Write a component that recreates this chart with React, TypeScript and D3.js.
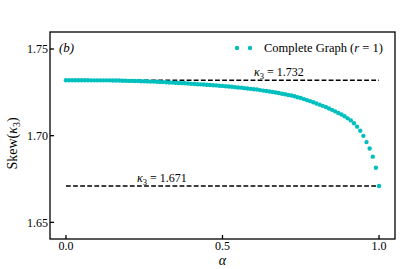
import React from 'react';
import * as d3 from 'd3';

// alpha grid (step 0.01) and skewness values
const alphas: number[] = d3.range(0, 101).map((i) => i / 100);
const skewValues: number[] = [
  1.7320, 1.7320, 1.7320, 1.7320, 1.7320, 1.7320, 1.7320, 1.7320, 1.7319, 1.7319,
  1.7319, 1.7319, 1.7319, 1.7319, 1.7319, 1.7318, 1.7318, 1.7318, 1.7317, 1.7317,
  1.7316, 1.7316, 1.7315, 1.7315, 1.7314, 1.7314, 1.7313, 1.7312, 1.7312, 1.7311,
  1.7310, 1.7309, 1.7308, 1.7307, 1.7306, 1.7305, 1.7304, 1.7303, 1.7302, 1.7301,
  1.7299, 1.7298, 1.7297, 1.7296, 1.7295, 1.7294, 1.7292, 1.7291, 1.7290, 1.7288,
  1.7287, 1.7285, 1.7284, 1.7282, 1.7280, 1.7278, 1.7277, 1.7274, 1.7272, 1.7270,
  1.7268, 1.7266, 1.7263, 1.7260, 1.7258, 1.7255, 1.7252, 1.7249, 1.7246, 1.7242,
  1.7239, 1.7235, 1.7232, 1.7227, 1.7222, 1.7217, 1.7211, 1.7205, 1.7199, 1.7193,
  1.7186, 1.7179, 1.7172, 1.7165, 1.7157, 1.7149, 1.7140, 1.7131, 1.7122, 1.7112,
  1.7100, 1.7088, 1.7072, 1.7052, 1.7028, 1.6999, 1.6963, 1.6926, 1.6879, 1.6815,
  1.6710,
];
const refLevels: number[] = [1.732, 1.671];
const refLabels: string[] = ['1.732', '1.671'];
const xTicks: number[] = [0, 0.5, 1];
const yTicks: number[] = [1.65, 1.7, 1.75];

const W = 403;
const H = 269;
const margin = { left: 50, top: 32, right: 8, bottom: 30 };
const font = 'Liberation Serif';
const cyan = '#00bfbf';

export default function App() {
  const x = d3.scaleLinear().domain([-0.051, 1.051]).range([margin.left, W - margin.right]);
  const y = d3.scaleLinear().domain([1.6404, 1.7598]).range([H - margin.bottom, margin.top]);
  const [x0, x1] = x.range();
  const [yb, yt] = y.range();

  return (
    <svg width={W} height={H} style={{ position: 'absolute', left: 0, top: 0, background: '#fff' }}>
      <g fontFamily={font}>
        {/* reference dashed lines */}
        {refLevels.map((lv) => (
          <line key={lv} x1={x(0)} x2={x(1)} y1={y(lv)} y2={y(lv)}
            stroke="#000" strokeWidth={1.5} strokeDasharray="4.8,2.3" />
        ))}
        {/* labels of reference lines */}
        {refLevels.map((lv, i) => (
          <text key={lv} x={i === 0 ? 254 : 137} y={y(lv) - 4} fontSize={12}>
            <tspan fontStyle="italic">κ</tspan>
            <tspan fontSize={8.5} dy={3}>3</tspan>
            <tspan dy={-3}> = {refLabels[i]}</tspan>
          </text>
        ))}

        {/* data points */}
        {alphas.map((a, i) => (
          <circle key={i} cx={x(a)} cy={y(skewValues[i])} r={2.2} fill={cyan} />
        ))}

        {/* frame */}
        <rect x={x0} y={yt} width={x1 - x0} height={yb - yt} fill="none" stroke="#000" strokeWidth={1.3} />

        {/* x ticks */}
        {xTicks.map((t) => (
          <g key={t}>
            <line x1={x(t)} x2={x(t)} y1={yb} y2={yb - 4} stroke="#000" strokeWidth={1.3} />
            <text x={x(t)} y={yb + 11} fontSize={12} textAnchor="middle">{d3.format('.1f')(t)}</text>
          </g>
        ))}
        {/* y ticks */}
        {yTicks.map((t) => (
          <g key={t}>
            <line x1={x0} x2={x0 + 4} y1={y(t)} y2={y(t)} stroke="#000" strokeWidth={1.3} />
            <text x={x0 - 2} y={y(t) + 4.5} fontSize={12} textAnchor="end">{d3.format('.2f')(t)}</text>
          </g>
        ))}

        {/* axis labels */}
        <text x={x(0.5)} y={265} fontSize={14} fontStyle="italic" textAnchor="middle">α</text>
        <text transform={`translate(17,${(yt + yb) / 2 + 8}) rotate(-90)`} fontSize={14} textAnchor="middle">
          Skew(<tspan fontStyle="italic">κ</tspan><tspan fontSize={10} dy={3}>3</tspan><tspan dy={-3}>)</tspan>
        </text>

        {/* panel tag */}
        <text x={59} y={52} fontSize={13} fontStyle="italic">(b)</text>

        {/* legend */}
        <circle cx={237} cy={48} r={2.2} fill={cyan} />
        <circle cx={250} cy={48} r={2.2} fill={cyan} />
        <text x={264} y={52} fontSize={12.5}>
          Complete Graph (<tspan fontStyle="italic">r</tspan> = 1)
        </text>
      </g>
    </svg>
  );
}
